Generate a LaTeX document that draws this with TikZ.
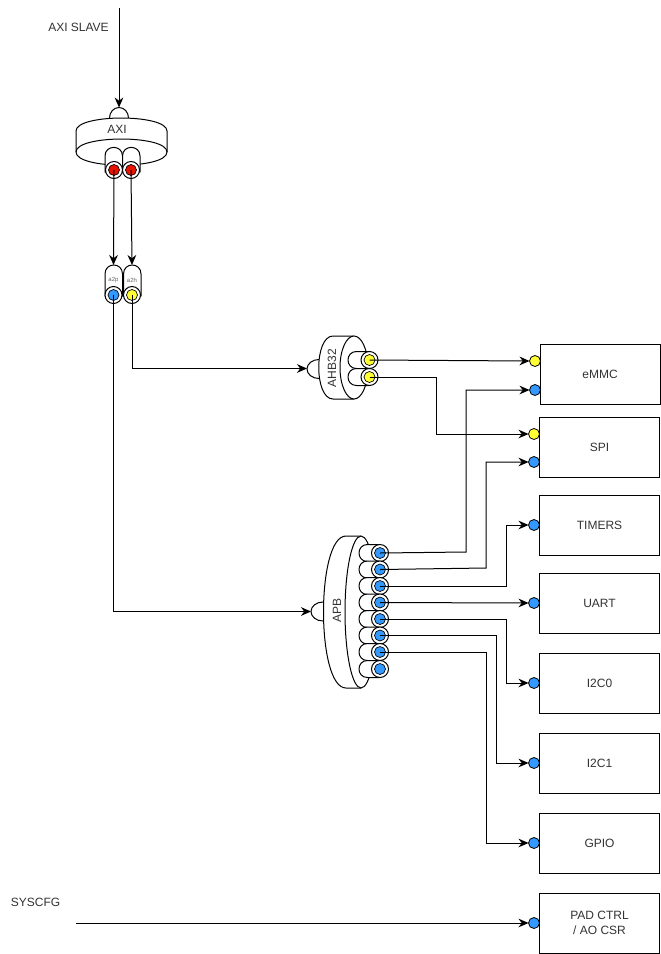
\documentclass[tikz,border=0pt]{standalone}
\usepackage{fontspec}
\setmainfont{Liberation Sans}
\usetikzlibrary{arrows.meta}
\definecolor{dotred}{HTML}{E51400}
\definecolor{dotblue}{HTML}{3399FF}
\definecolor{dotyellow}{HTML}{FFFF33}
\definecolor{labelgray}{HTML}{333333}
\tikzset{
  shell/.style={draw=black,fill=white,line width=0.75pt,line join=round},
  ring/.style={circle,draw=black,fill=white,line width=0.75pt,minimum size=12.75pt,inner sep=0pt,outer sep=0pt},
  core/.style={circle,draw=black,fill=#1,line width=0.5pt,minimum size=8.25pt,inner sep=0pt,outer sep=0pt},
  pin/.style={circle,draw=black,fill=#1,line width=0.6pt,minimum size=8.25pt,inner sep=0pt,outer sep=0pt},
  block/.style={rectangle,draw=black,fill=white,line width=0.75pt,minimum width=90pt,minimum height=45pt,inner sep=0pt,align=center,font=\fontsize{9}{11}\selectfont,text=labelgray},
  lbl/.style={font=\fontsize{9}{11}\selectfont,text=labelgray,inner sep=0pt},
  tiny/.style={font=\fontsize{4.5}{5}\selectfont,text=black!60,inner sep=0pt},
  wire/.style={draw=black,line width=0.75pt,line join=miter,-{Stealth[length=7.5pt,width=6.5pt]}},
}
\newcommand{\dotport}[4]{%
  \node[ring] (#1) at (#2,#3) {};
  \node[core=#4] (#1i) at (#2,#3) {};
}
\newcommand{\hcaps}[2]{% capsule rounded on the left, from its straight start to under the circle
  \path[shell] (#1+12,#2-8.5) -- (#1,#2-8.5) .. controls (#1-11.3,#2-8.5) and (#1-11.3,#2+8.5) .. (#1,#2+8.5) -- (#1+12,#2+8.5) -- cycle;
}
\begin{document}
\begin{tikzpicture}[x=0.75pt,y=-0.75pt]
\useasboundingbox (0,0) rectangle (661,954);
\fill[white] (0,0) rectangle (661,954);

% AXI
\coordinate (capaxi) at (119,107.5);
\draw[shell] (119,118) ellipse [x radius=9.5,y radius=10.5];
\path[shell] (76,131) .. controls (76,113.7) and (167,113.7) .. (167,131) -- (167,152) .. controls (167,169.5) and (76,169.5) .. (76,152) -- cycle;
\draw[shell,fill=none] (76,152) .. controls (76,134.7) and (167,134.7) .. (167,152);
\node[lbl] (axilabel) at (117,129) {AXI};
\path[shell] (105,172) -- (105,156) .. controls (105,144.5) and (122.5,144.5) .. (122.5,156) -- (122.5,172) -- cycle;
\path[shell] (122.5,172) -- (122.5,156) .. controls (122.5,144.5) and (140,144.5) .. (140,156) -- (140,172) -- cycle;
\dotport{r1}{114}{170}{dotred}
\dotport{r2}{131}{170}{dotred}

% bridges
\path[shell] (105,296) -- (105,274) .. controls (105,262) and (122.5,262) .. (122.5,274) -- (122.5,296) -- cycle;
\path[shell] (123.5,296) -- (123.5,274) .. controls (123.5,262) and (141,262) .. (141,274) -- (141,296) -- cycle;
\node[tiny] (a2plabel) at (113.5,280) {a2p};
\node[tiny] (a2hlabel) at (132,280) {a2h};
\coordinate (a2pin) at (113.5,265);
\coordinate (a2hin) at (132,265);
\dotport{bp}{113.5}{295}{dotblue}
\dotport{bh}{132}{295}{dotyellow}

% AHB32
\coordinate (capahb) at (307,368.5);
\draw[shell] (319,369) ellipse [x radius=12,y radius=9.5];
\path[shell] (354,336) -- (333,336) .. controls (314,336) and (314,399) .. (333,399) -- (354,399) -- cycle;
\draw[shell] (354,367.5) ellipse [x radius=14,y radius=31.5];
\node[lbl,rotate=90] (ahblabel) at (332,368) {AHB32};
\hcaps{356.5}{360}
\hcaps{356.5}{377}
\dotport{h1}{369.5}{360}{dotyellow}
\dotport{h2}{369.5}{377}{dotyellow}

% APB
\coordinate (capapb) at (311,611.5);
\draw[shell] (323,611.5) ellipse [x radius=12,y radius=9.5];
\path[shell] (361,536) -- (346,536) .. controls (316,536) and (316,688) .. (346,688) -- (361,688) -- cycle;
\draw[shell] (361,612) ellipse [x radius=16,y radius=76];
\node[lbl,rotate=90] (apblabel) at (337,610) {APB};
\foreach \n/\yy in {1/553,2/569.5,3/586,4/602.5,5/619,6/635.5,7/652,8/669}{
  \hcaps{367.5}{\yy}
  \dotport{a\n}{380}{\yy}{dotblue}
}

% peripheral blocks
\node[block] (emmc) at (600,374.5) {eMMC};
\node[block] (spi) at (599.5,447.5) {SPI};
\node[block] (timers) at (599.5,525) {TIMERS};
\node[block] (uart) at (599.5,603) {UART};
\node[block] (i2c0) at (599.5,683) {I2C0};
\node[block] (i2c1) at (599.5,763) {I2C1};
\node[block] (gpio) at (599.5,843) {GPIO};
\node[block] (pad) at (599.5,923) {PAD CTRL\\/ AO CSR};

\node[pin=dotyellow] (pe1) at (535,361) {};
\node[pin=dotblue] (pe2) at (535,390) {};
\node[pin=dotyellow] (ps1) at (534,434) {};
\node[pin=dotblue] (ps2) at (534,462) {};
\node[pin=dotblue] (pt) at (534,525) {};
\node[pin=dotblue] (pu) at (534,603) {};
\node[pin=dotblue] (pi0) at (534,683) {};
\node[pin=dotblue] (pi1) at (534,763) {};
\node[pin=dotblue] (pg) at (534,843) {};
\node[pin=dotblue] (pp) at (534,923) {};

% free labels and ends
\node[lbl] (axislave) at (78.5,27) {AXI SLAVE};
\node[lbl] (syscfg) at (35.5,902) {SYSCFG};
\coordinate (axisrc) at (119,8);
\coordinate (syssrc) at (76,923);

% connectors
\draw[wire] (axisrc) -- (capaxi);
\draw[wire] (r1.center) -- (a2pin);
\draw[wire] (r2.center) -- (a2hin);
\draw[wire] (bh.center) -- (132,368.5) -- (capahb);
\draw[wire] (bp.center) -- (113.5,611.5) -- (capapb);
\draw[wire] (h1.center) -- (pe1.west);
\draw[wire] (h2.center) -- (436,377) -- (436,434) -- (ps1.west);
\draw[wire] (a1.center) -- (466,552) -- (466,390) -- (pe2.west);
\draw[wire] (a2.center) -- (486,568) -- (486,462) -- (ps2.west);
\draw[wire] (a3.center) -- (506,586) -- (506,525) -- (pt.west);
\draw[wire] (a4.center) -- (pu.west);
\draw[wire] (a5.center) -- (506,619) -- (506,683) -- (pi0.west);
\draw[wire] (a6.center) -- (496,635.5) -- (496,763) -- (pi1.west);
\draw[wire] (a7.center) -- (486,652) -- (486,843) -- (pg.west);
\draw[wire] (syssrc) -- (pp.west);
\end{tikzpicture}
\end{document}
